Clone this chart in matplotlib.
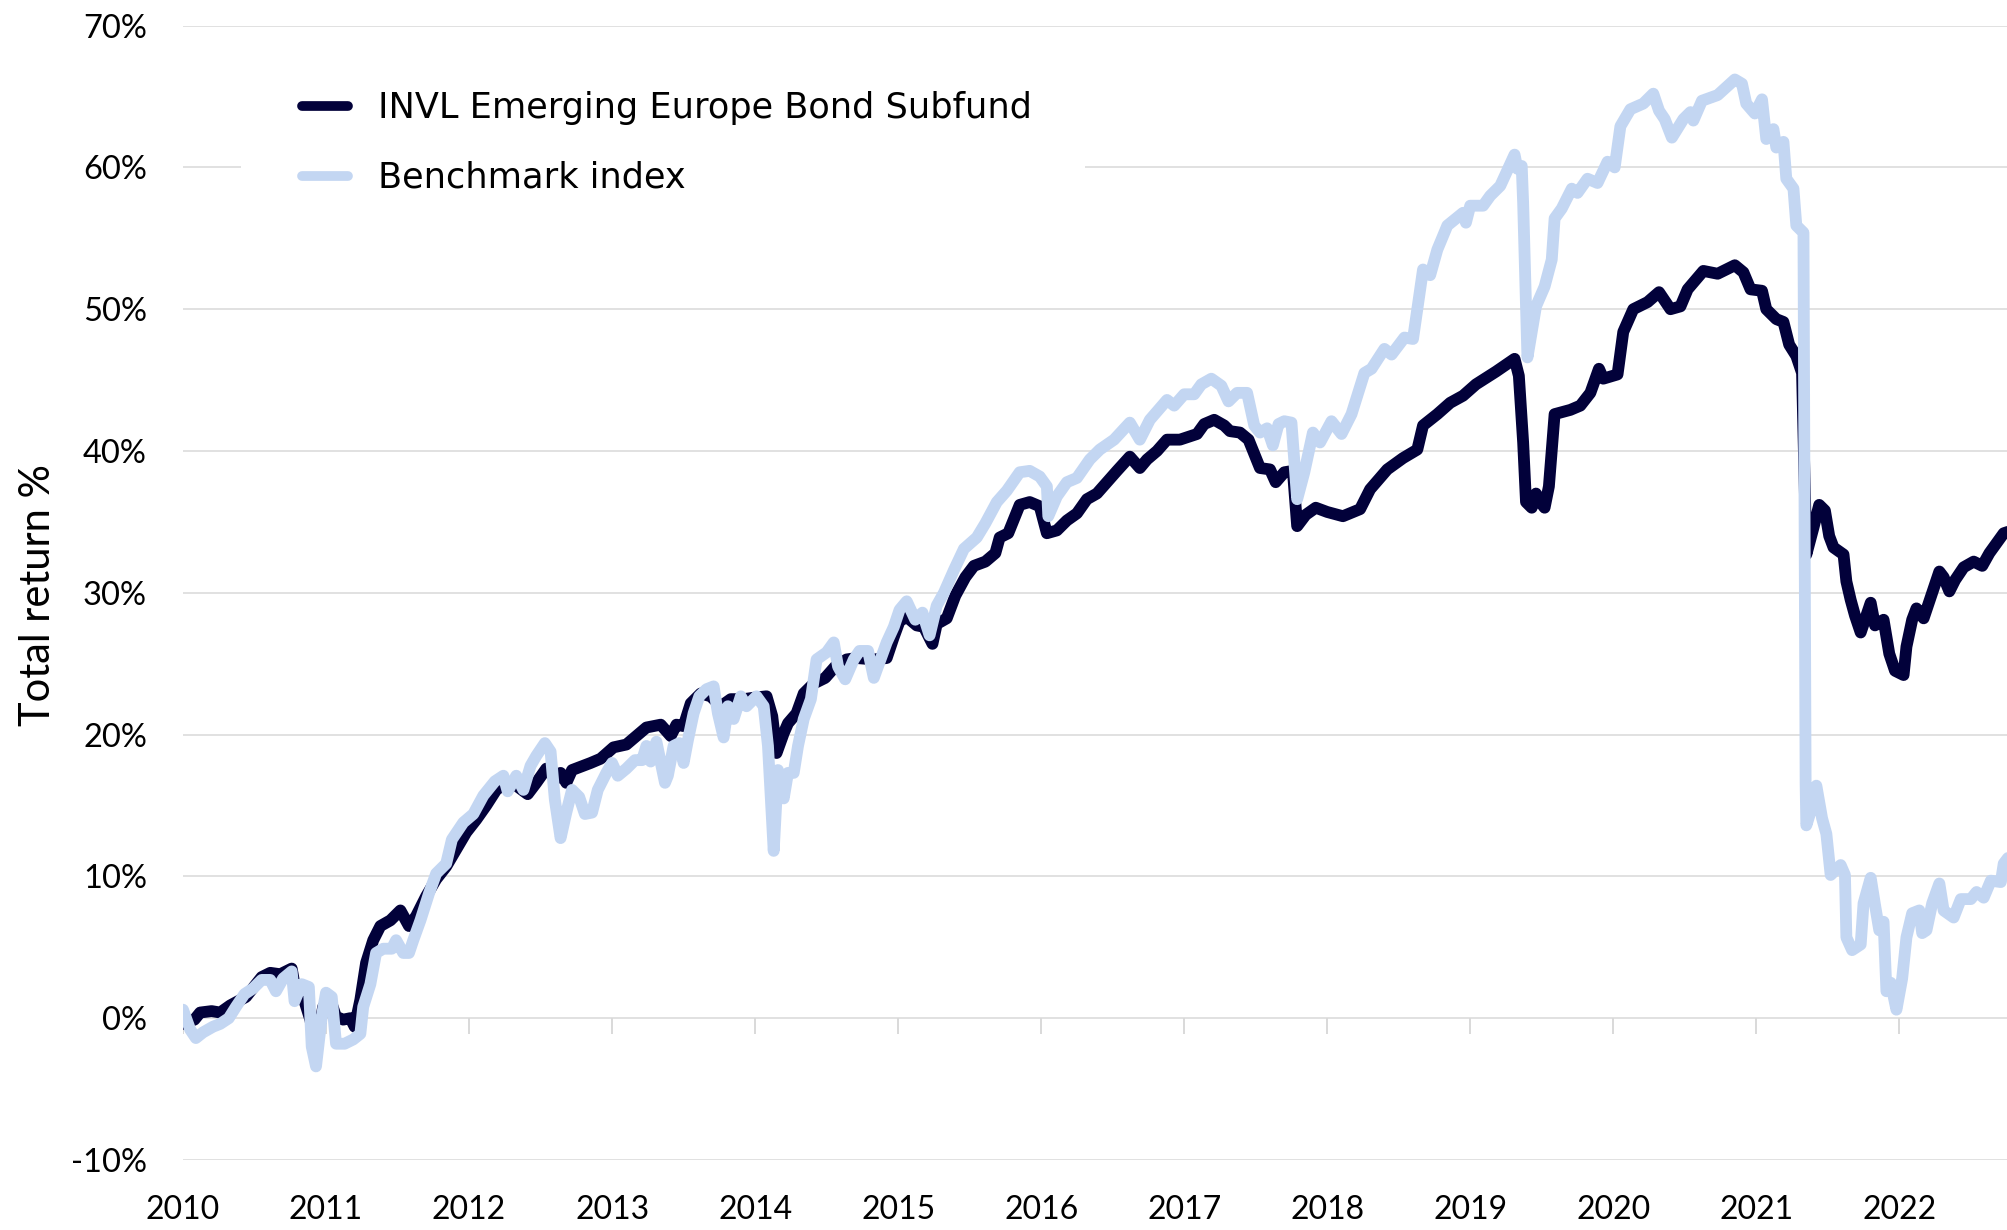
import matplotlib
matplotlib.use("Agg")
import matplotlib.pyplot as plt
from matplotlib.patches import Rectangle

# ---------------- data (decimal years, total return %) ----------------
fund_t = [2010.00, 2010.08, 2010.12, 2010.20, 2010.26, 2010.33, 2010.44, 2010.55, 2010.61, 2010.68,
          2010.76, 2010.79, 2010.84, 2010.89, 2010.93, 2010.98, 2011.03, 2011.07, 2011.12, 2011.17,
          2011.20, 2011.24, 2011.28, 2011.33, 2011.38, 2011.45, 2011.52, 2011.58, 2011.63, 2011.70,
          2011.77, 2011.84, 2011.91, 2011.98, 2012.05, 2012.12, 2012.19, 2012.26, 2012.33, 2012.41,
          2012.47, 2012.54, 2012.61, 2012.64, 2012.68, 2012.72, 2012.85, 2012.92, 2013.01, 2013.10,
          2013.17, 2013.24, 2013.34, 2013.41, 2013.45, 2013.50, 2013.55, 2013.62, 2013.69, 2013.76,
          2013.83, 2013.92, 2013.99, 2014.08, 2014.12, 2014.15, 2014.20, 2014.23, 2014.29, 2014.34,
          2014.41, 2014.49, 2014.56, 2014.64, 2014.71, 2014.83, 2014.92, 2014.97, 2015.01, 2015.06,
          2015.13, 2015.18, 2015.24, 2015.27, 2015.34, 2015.40, 2015.47, 2015.53, 2015.61, 2015.68,
          2015.71, 2015.77, 2015.85, 2015.92, 2015.99, 2016.04, 2016.11, 2016.18, 2016.25, 2016.32,
          2016.39, 2016.46, 2016.53, 2016.62, 2016.69, 2016.74, 2016.81, 2016.88, 2016.97, 2017.09,
          2017.14, 2017.21, 2017.28, 2017.32, 2017.39, 2017.45, 2017.49, 2017.53, 2017.60, 2017.64,
          2017.70, 2017.76, 2017.79, 2017.85, 2017.92, 2018.00, 2018.11, 2018.23, 2018.30, 2018.42,
          2018.53, 2018.63, 2018.67, 2018.77, 2018.86, 2018.95, 2019.04, 2019.18, 2019.31, 2019.34,
          2019.37, 2019.39, 2019.43, 2019.46, 2019.49, 2019.52, 2019.55, 2019.59, 2019.70, 2019.77,
          2019.84, 2019.90, 2019.93, 2020.03, 2020.07, 2020.14, 2020.24, 2020.32, 2020.36, 2020.40,
          2020.47, 2020.52, 2020.63, 2020.73, 2020.85, 2020.91, 2020.96, 2021.04, 2021.07, 2021.14,
          2021.19, 2021.23, 2021.28, 2021.32, 2021.35, 2021.40, 2021.44, 2021.48, 2021.51, 2021.54,
          2021.61, 2021.63, 2021.66, 2021.69, 2021.73, 2021.76, 2021.80, 2021.83, 2021.89, 2021.93,
          2021.97, 2022.03, 2022.05, 2022.09, 2022.12, 2022.17, 2022.22, 2022.28, 2022.31, 2022.35,
          2022.39, 2022.45, 2022.52, 2022.58, 2022.63, 2022.68, 2022.73, 2022.76]
fund_v = [-0.4, -0.1, 0.4, 0.5, 0.4, 0.9, 1.5, 2.9, 3.2, 3.1,
          3.5, 1.8, 1.5, -0.1, -2.0, 0.8, 1.3, 0.1, -0.1, 0.0,
          -0.6, 1.3, 3.9, 5.5, 6.5, 6.9, 7.6, 6.5, 7.2, 8.6,
          9.8, 10.7, 11.9, 13.1, 14.0, 15.0, 16.1, 16.6, 16.4, 15.8,
          16.6, 17.6, 16.9, 17.3, 16.6, 17.5, 18.0, 18.3, 19.1, 19.3,
          19.9, 20.5, 20.7, 19.9, 20.7, 20.6, 22.2, 22.9, 22.7, 22.0,
          22.5, 22.5, 22.6, 22.7, 21.3, 18.7, 20.1, 20.8, 21.5, 22.9,
          23.6, 24.0, 24.8, 25.3, 25.4, 25.3, 25.4, 26.9, 28.0, 28.3,
          27.7, 27.6, 26.4, 27.8, 28.2, 29.8, 31.1, 31.9, 32.2, 32.8,
          33.9, 34.2, 36.2, 36.4, 36.1, 34.2, 34.4, 35.1, 35.6, 36.6,
          37.0, 37.8, 38.6, 39.6, 38.8, 39.4, 40.0, 40.8, 40.8, 41.2,
          41.9, 42.2, 41.8, 41.4, 41.3, 40.8, 39.8, 38.8, 38.7, 37.8,
          38.5, 38.6, 34.7, 35.5, 36.0, 35.7, 35.4, 35.9, 37.3, 38.7,
          39.5, 40.1, 41.8, 42.6, 43.4, 43.9, 44.7, 45.6, 46.5, 45.3,
          40.6, 36.4, 36.0, 37.0, 36.4, 36.0, 37.5, 42.6, 42.9, 43.2,
          44.1, 45.8, 45.1, 45.4, 48.4, 50.0, 50.5, 51.2, 50.6, 50.0,
          50.2, 51.4, 52.7, 52.5, 53.1, 52.6, 51.4, 51.3, 50.0, 49.3,
          49.1, 47.5, 46.7, 45.5, 32.7, 34.6, 36.2, 35.8, 34.0, 33.2,
          32.7, 30.8, 29.5, 28.4, 27.2, 28.1, 29.3, 27.7, 28.1, 25.7,
          24.5, 24.2, 26.2, 28.1, 28.9, 28.2, 29.7, 31.5, 31.1, 30.1,
          30.9, 31.8, 32.2, 31.9, 32.8, 33.5, 34.2, 34.3]

bench_t = [2010.00, 2010.05, 2010.09, 2010.14, 2010.21, 2010.26, 2010.32, 2010.37, 2010.43, 2010.49,
           2010.55, 2010.61, 2010.65, 2010.70, 2010.76, 2010.78, 2010.83, 2010.88, 2010.90, 2010.93,
           2010.97, 2011.00, 2011.04, 2011.07, 2011.13, 2011.19, 2011.24, 2011.26, 2011.31, 2011.35,
           2011.40, 2011.46, 2011.49, 2011.54, 2011.58, 2011.61, 2011.66, 2011.72, 2011.77, 2011.84,
           2011.88, 2011.96, 2012.03, 2012.10, 2012.18, 2012.24, 2012.27, 2012.33, 2012.38, 2012.43,
           2012.47, 2012.53, 2012.57, 2012.60, 2012.64, 2012.68, 2012.72, 2012.77, 2012.81, 2012.86,
           2012.90, 2012.96, 2013.00, 2013.04, 2013.10, 2013.16, 2013.21, 2013.24, 2013.27, 2013.31,
           2013.37, 2013.39, 2013.43, 2013.47, 2013.50, 2013.53, 2013.57, 2013.61, 2013.66, 2013.71,
           2013.74, 2013.78, 2013.81, 2013.85, 2013.90, 2013.94, 2014.01, 2014.06, 2014.09, 2014.13,
           2014.16, 2014.20, 2014.23, 2014.27, 2014.30, 2014.34, 2014.39, 2014.43, 2014.50, 2014.55,
           2014.58, 2014.63, 2014.69, 2014.73, 2014.79, 2014.83, 2014.88, 2014.92, 2014.97, 2015.01,
           2015.06, 2015.12, 2015.17, 2015.22, 2015.27, 2015.32, 2015.39, 2015.46, 2015.55, 2015.61,
           2015.69, 2015.76, 2015.85, 2015.92, 2015.99, 2016.04, 2016.05, 2016.11, 2016.18, 2016.25,
           2016.34, 2016.41, 2016.51, 2016.62, 2016.69, 2016.76, 2016.88, 2016.93, 2017.00, 2017.07,
           2017.12, 2017.19, 2017.26, 2017.31, 2017.37, 2017.44, 2017.49, 2017.53, 2017.58, 2017.62,
           2017.66, 2017.70, 2017.75, 2017.79, 2017.84, 2017.90, 2017.95, 2018.03, 2018.10, 2018.17,
           2018.26, 2018.31, 2018.40, 2018.45, 2018.54, 2018.60, 2018.63, 2018.67, 2018.72, 2018.77,
           2018.84, 2018.95, 2018.97, 2019.00, 2019.09, 2019.14, 2019.21, 2019.31, 2019.33, 2019.36,
           2019.37, 2019.40, 2019.43, 2019.46, 2019.52, 2019.57, 2019.59, 2019.64, 2019.71, 2019.75,
           2019.82, 2019.89, 2019.96, 2020.01, 2020.05, 2020.12, 2020.21, 2020.28, 2020.32, 2020.36,
           2020.41, 2020.49, 2020.54, 2020.56, 2020.62, 2020.73, 2020.85, 2020.90, 2020.93, 2020.99,
           2021.04, 2021.07, 2021.12, 2021.14, 2021.19, 2021.21, 2021.26, 2021.28, 2021.33, 2021.345,
           2021.35, 2021.39, 2021.42, 2021.46, 2021.49, 2021.52, 2021.59, 2021.62, 2021.63, 2021.67,
           2021.73, 2021.75, 2021.80, 2021.83, 2021.86, 2021.89, 2021.91, 2021.94, 2021.98, 2022.02,
           2022.05, 2022.09, 2022.14, 2022.16, 2022.19, 2022.23, 2022.28, 2022.31, 2022.38, 2022.43,
           2022.50, 2022.54, 2022.59, 2022.64, 2022.71, 2022.73, 2022.76]
bench_v = [0.6, -0.8, -1.4, -1.0, -0.6, -0.4, 0.0, 0.8, 1.7, 2.1,
           2.7, 2.7, 1.9, 2.8, 3.3, 1.2, 2.4, 2.2, -2.0, -3.4,
           0.1, 1.8, 1.5, -1.8, -1.8, -1.5, -1.1, 0.8, 2.4, 4.6,
           4.9, 4.9, 5.5, 4.6, 4.6, 5.5, 6.9, 8.8, 10.2, 10.9,
           12.6, 13.8, 14.4, 15.7, 16.7, 17.1, 16.0, 17.1, 16.1, 17.8,
           18.5, 19.4, 18.8, 15.4, 12.7, 14.5, 16.1, 15.6, 14.4, 14.5,
           16.1, 17.3, 18.0, 17.1, 17.6, 18.2, 18.2, 19.2, 18.1, 19.5,
           16.6, 17.1, 19.2, 19.4, 18.0, 19.6, 21.5, 22.7, 23.2, 23.4,
           21.5, 19.8, 22.0, 21.1, 22.7, 22.0, 22.7, 22.0, 19.2, 11.8,
           17.5, 15.5, 17.3, 17.3, 19.2, 21.1, 22.5, 25.3, 25.8, 26.5,
           24.8, 23.9, 25.3, 25.9, 25.9, 24.0, 25.4, 26.5, 27.6, 28.8,
           29.4, 28.1, 28.6, 27.0, 29.1, 30.0, 31.6, 33.1, 33.9, 34.9,
           36.4, 37.2, 38.5, 38.6, 38.2, 37.5, 35.4, 36.8, 37.8, 38.1,
           39.4, 40.1, 40.8, 42.0, 40.8, 42.2, 43.6, 43.2, 44.0, 44.0,
           44.7, 45.1, 44.6, 43.5, 44.1, 44.1, 41.8, 41.3, 41.6, 40.4,
           41.9, 42.1, 42.0, 36.6, 38.5, 41.3, 40.6, 42.1, 41.2, 42.6,
           45.5, 45.8, 47.2, 46.8, 48.0, 47.9, 50.0, 52.8, 52.4, 54.2,
           55.9, 56.8, 56.1, 57.3, 57.3, 58.0, 58.7, 60.9, 59.9, 60.1,
           57.5, 46.6, 48.4, 50.2, 51.6, 53.5, 56.4, 57.1, 58.5, 58.2,
           59.2, 58.9, 60.4, 60.0, 62.9, 64.1, 64.5, 65.2, 64.0, 63.4,
           62.1, 63.4, 63.9, 63.3, 64.7, 65.1, 66.2, 65.9, 64.5, 63.8,
           64.8, 62.0, 62.7, 61.4, 61.8, 59.2, 58.5, 55.9, 55.4, 16.5,
           13.6, 14.9, 16.4, 14.1, 13.0, 10.1, 10.8, 10.1, 5.7, 4.8,
           5.2, 8.1, 9.9, 8.0, 6.2, 6.8, 1.9, 2.5, 0.6, 2.8,
           5.7, 7.4, 7.6, 6.0, 6.2, 8.1, 9.5, 7.6, 7.1, 8.4,
           8.4, 8.9, 8.5, 9.7, 9.6, 10.9, 11.3]

year_ticks = [2010, 2011, 2012, 2013, 2014, 2015, 2016, 2017, 2018, 2019, 2020, 2021, 2022]
y_ticks = [-10, 0, 10, 20, 30, 40, 50, 60, 70]
series_names = ["INVL Emerging Europe Bond Subfund", "Benchmark index"]

# ---------------- styling ----------------
DARK = "#02013a"
LIGHT = "#c3d6f2"
GRID = "#d9d9d9"
TICK_FONT = "Lato"
W, H = 2008, 1230

fig = plt.figure(figsize=(W / 100, H / 100), dpi=100)
ax = fig.add_axes([183 / W, 1 - 1160 / H, 1 - 183 / W, (1160 - 25.6) / H])

for y in y_ticks:
    ax.axhline(y, color=GRID, lw=1.1, zorder=0)
ax.vlines(year_ticks, -1.1, 0, color=GRID, lw=1.4, zorder=0)

# white legend panel that hides the gridline behind the legend
fig.patches.append(Rectangle((241 / W, 1 - 225 / H), (1085 - 241) / W, (225 - 50) / H,
                             transform=fig.transFigure, facecolor="white",
                             edgecolor="none", zorder=1))

l1, = ax.plot(fund_t, fund_v, color=DARK, lw=8.5, solid_joinstyle="round",
              solid_capstyle="round", zorder=2, label=series_names[0])
l2, = ax.plot(bench_t, bench_v, color=LIGHT, lw=8.5, solid_joinstyle="round",
              solid_capstyle="round", zorder=3, label=series_names[1])

ax.set_xlim(2010, 2022.76)
ax.set_ylim(-10, 70)
for s in ax.spines.values():
    s.set_visible(False)

ax.set_xticks(year_ticks)
ax.set_xticklabels([str(y) for y in year_ticks], fontfamily=TICK_FONT, fontsize=23)
ax.set_yticks(y_ticks)
ax.set_yticklabels([f"{y}%" for y in y_ticks], fontfamily=TICK_FONT, fontsize=23.5)
ax.tick_params(axis="x", length=0, pad=25)
ax.tick_params(axis="y", length=0, pad=26)

fig.text(38 / W, 1 - 595 / H, "Total return %", rotation=90, va="center", ha="center",
         fontfamily=TICK_FONT, fontsize=30)

leg = fig.legend(handles=[l1, l2], loc="upper left", bbox_to_anchor=(302 / W, 1 - 91 / H),
                 frameon=False, prop={"family": "DejaVu Sans", "size": 25.3},
                 handlelength=1.3, handletextpad=0.85, labelspacing=1.02,
                 borderpad=0, borderaxespad=0)
for h in leg.get_lines():
    h.set_linewidth(7)
    h.set_solid_capstyle("round")

fig.savefig("out.png", dpi=100)
